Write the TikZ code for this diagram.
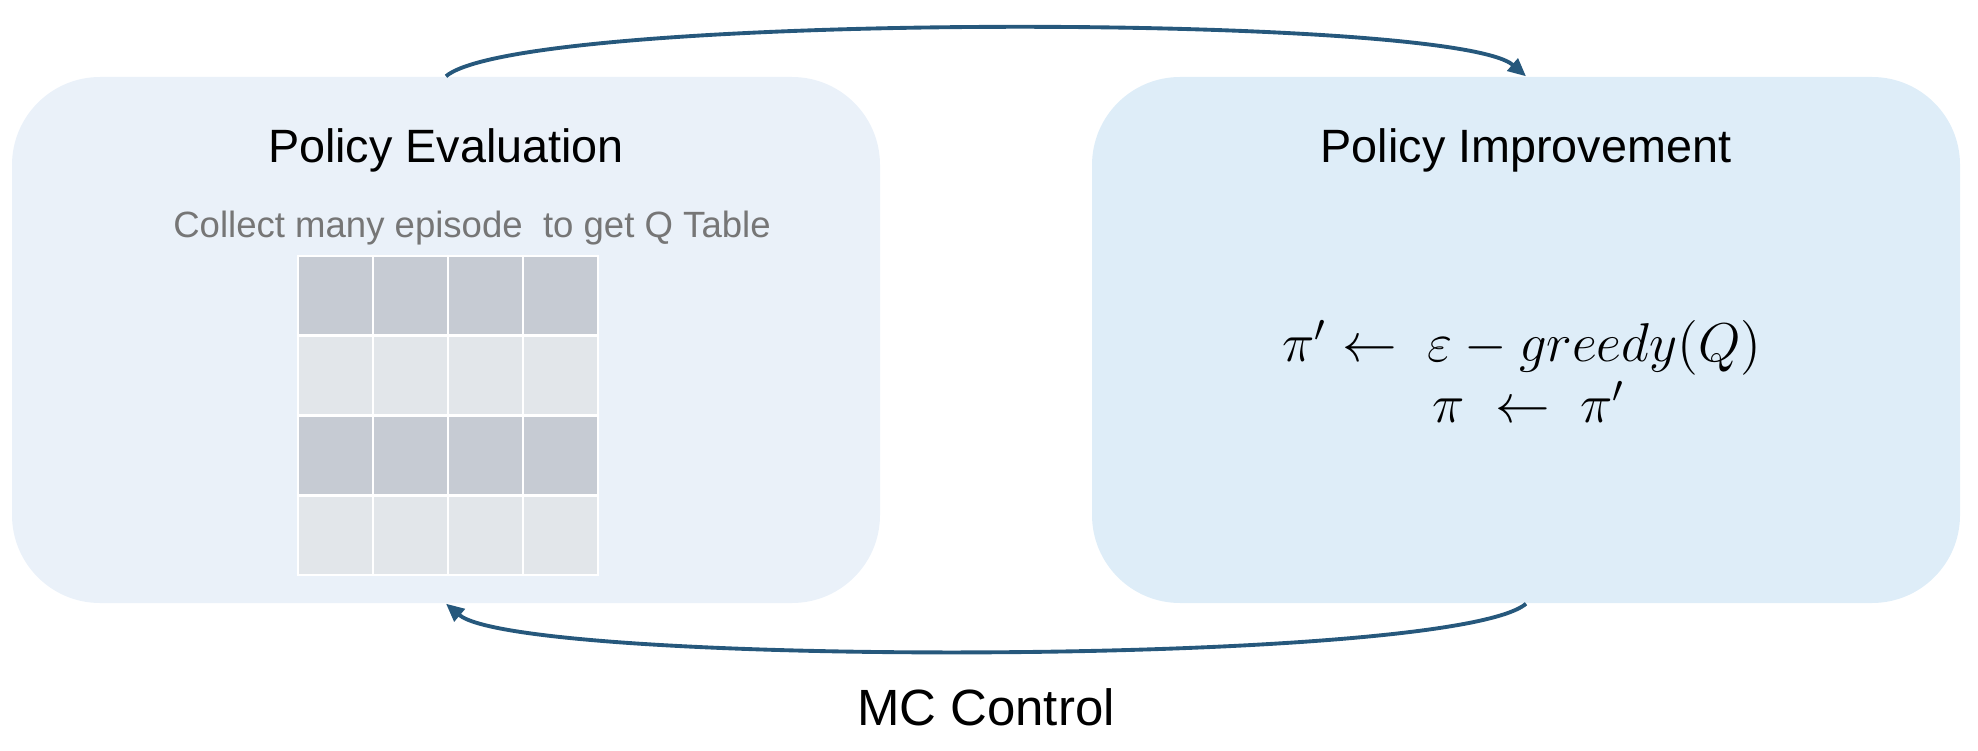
\documentclass[tikz,border=0pt]{standalone}
\usepackage{amsmath}
\usepackage{fontspec}
\setmainfont{Liberation Sans}
\usetikzlibrary{calc,positioning,arrows.meta}

\definecolor{evalblue}{HTML}{EAF1F9}
\definecolor{improveblue}{HTML}{DEEDF8}
\definecolor{darkcell}{HTML}{C6CBD3}
\definecolor{lightcell}{HTML}{E2E6EA}
\definecolor{loopblue}{RGB}{38,88,124}
\definecolor{notegray}{HTML}{767676}

\begin{document}
\begin{tikzpicture}[panel/.style={rectangle,rounded corners=8.8mm,minimum width=86.8mm,minimum height=52.6mm,inner sep=0pt},
paneltitle/.style={anchor=base,font=\fontsize{13.3}{16}\selectfont},
formula/.style={anchor=base,scale=1.08,inner sep=0pt},
mcarrow/.style={draw=loopblue,line width=1.1pt,-{Triangle[length=1.8mm,width=1.6mm]}},
cell/.style={draw=white,line width=.8pt}]

\useasboundingbox (0,0) rectangle (19.78,7.5);

% Policy evaluation
\node (evaluation) at (4.46,4.10) [panel,fill=evalblue] {};
\node (evaltitle) at ($(evaluation.north)+(0,-.86)$) [paneltitle] {Policy Evaluation};
\node (evalnote) at ($(evaluation.north)+(.26,-1.61)$) [anchor=base,text=notegray,font=\fontsize{10.4}{12}\selectfont] {Collect many episode\ \ to get Q Table};

% Q table
\coordinate (qtable) at (2.98,1.75);
\foreach \r/\tone in {0/lightcell,1/darkcell,2/lightcell,3/darkcell}
  \foreach \c in {0,1,2,3}
    \filldraw[cell,fill=\tone] ($(qtable)+(.75*\c,.7975*\r)$) rectangle +(.75,.7975);


% Policy improvement
\node (improvement) at (15.26,4.10) [panel,fill=improveblue] {};
\node (improvetitle) at ($(improvement.north)+(0,-.86)$) [paneltitle] {Policy Improvement};
\node (update) at ($(improvement.north)+(-.04,-2.85)$) [formula] {\Large $\pi' \leftarrow\ \varepsilon - greedy(Q)$};
\node (assign) at ($(improvement.north)+(.03,-3.46)$) [formula] {\Large $\pi\ \leftarrow\ \pi'$};


% MC control loop
\draw[mcarrow] (evaluation.north) .. controls ($(evaluation.north)+(.74,.64)$) and ($(improvement.north)+(-.74,.64)$) .. (improvement.north);
\draw[mcarrow] (improvement.south) .. controls ($(improvement.south)+(-.74,-.63)$) and ($(evaluation.south)+(.74,-.63)$) .. (evaluation.south);
\node (control) at ($(evaluation.south)!.5!(improvement.south)+(0,-1.22)$) [anchor=base,font=\fontsize{14.5}{17}\selectfont] {MC Control};

\end{tikzpicture}
\end{document}
